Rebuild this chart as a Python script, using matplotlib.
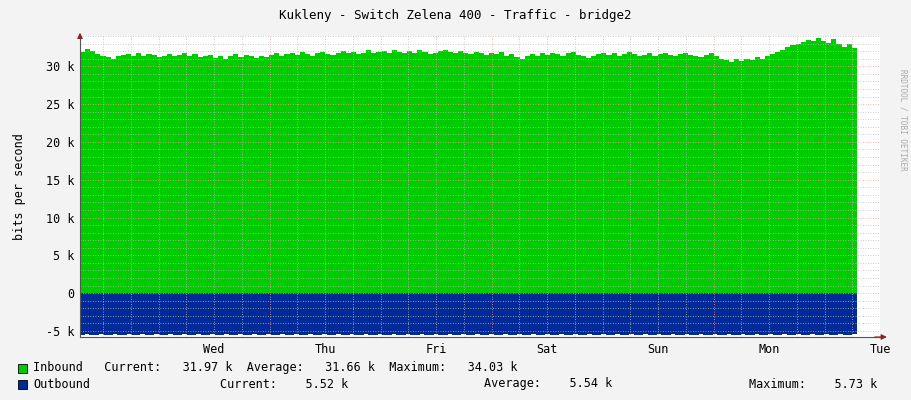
import matplotlib
matplotlib.use("Agg")
import matplotlib.pyplot as plt
import numpy as np
from matplotlib.ticker import MultipleLocator, FuncFormatter

days = ["Wed", "Thu", "Fri", "Sat", "Sun", "Mon", "Tue"]
# inbound (k bits/s), roughly one sample per ~1.05 h over 7 days
inbound = [31.9, 32.3, 32.0, 31.6, 31.4, 31.2, 31.0, 31.3, 31.5, 31.6,
           31.4, 31.7, 31.3, 31.6, 31.5, 31.2, 31.4, 31.6, 31.3, 31.5,
           31.8, 31.4, 31.6, 31.2, 31.4, 31.5, 31.1, 31.3, 31.0, 31.4,
           31.6, 31.2, 31.5, 31.3, 31.1, 31.4, 31.2, 31.5, 31.7, 31.3,
           31.6, 31.8, 31.5, 31.9, 31.6, 31.4, 31.7, 31.9, 31.6, 31.5,
           31.8, 32.0, 31.7, 31.9, 31.6, 31.8, 32.1, 31.7, 31.9, 32.0,
           31.8, 32.2, 31.9, 31.7, 32.0, 31.8, 32.1, 31.9, 31.6, 31.8,
           32.0, 32.2, 31.9, 31.7, 32.0, 31.8, 31.6, 31.9, 31.7, 31.5,
           31.8, 31.6, 31.9, 31.4, 31.6, 31.2, 31.0, 31.3, 31.6, 31.4,
           31.7, 31.5, 31.8, 31.6, 31.4, 31.7, 31.9, 31.5, 31.3, 31.1,
           31.4, 31.6, 31.8, 31.5, 31.7, 31.4, 31.6, 31.9, 31.6, 31.3,
           31.5, 31.7, 31.4, 31.6, 31.8, 31.5, 31.3, 31.6, 31.8, 31.5,
           31.4, 31.2, 31.5, 31.7, 31.3, 31.0, 30.8, 30.6, 30.9, 30.7,
           31.0, 30.8, 31.2, 30.9, 31.3, 31.6, 31.9, 32.2, 32.5, 32.8,
           33.0, 33.2, 33.5, 33.3, 33.8, 33.4, 33.1, 33.6, 33.0, 32.6,
           32.9, 32.4, 32.0]
# outbound (k bits/s), hourly
outbound = [5.58, 5.40, 5.58, 5.58, 5.42, 5.58, 5.57, 5.40, 5.58, 5.58,
            5.41, 5.58, 5.57, 5.40, 5.58, 5.58, 5.42, 5.58, 5.58, 5.40,
            5.57, 5.58, 5.41, 5.58, 5.58, 5.40, 5.58, 5.57, 5.42, 5.58,
            5.58, 5.40, 5.58, 5.58, 5.41, 5.57, 5.58, 5.40, 5.58, 5.58,
            5.42, 5.58, 5.57, 5.40, 5.58, 5.58, 5.41, 5.58, 5.58, 5.40,
            5.57, 5.58, 5.42, 5.58, 5.58, 5.40, 5.58, 5.57, 5.41, 5.58,
            5.58, 5.40, 5.58, 5.58, 5.42, 5.57, 5.58, 5.40, 5.58, 5.58,
            5.41, 5.58, 5.57, 5.40, 5.58, 5.58, 5.42, 5.58, 5.58, 5.40,
            5.57, 5.58, 5.41, 5.58, 5.58, 5.40, 5.58, 5.57, 5.42, 5.58,
            5.58, 5.40, 5.58, 5.58, 5.41, 5.57, 5.58, 5.40, 5.58, 5.58,
            5.42, 5.58, 5.57, 5.40, 5.58, 5.58, 5.41, 5.58, 5.58, 5.40,
            5.57, 5.58, 5.42, 5.58, 5.58, 5.40, 5.58, 5.57, 5.41, 5.58,
            5.58, 5.40, 5.58, 5.58, 5.42, 5.57, 5.58, 5.40, 5.58, 5.58,
            5.41, 5.58, 5.57, 5.40, 5.58, 5.58, 5.42, 5.58, 5.58, 5.40,
            5.57, 5.58, 5.41, 5.58, 5.58, 5.40, 5.58, 5.57, 5.42, 5.58,
            5.58, 5.40, 5.58, 5.58, 5.41, 5.57, 5.58, 5.40, 5.58, 5.58,
            5.42, 5.58, 5.57, 5.40, 5.58, 5.58, 5.41, 5.58]

plt.rcParams['font.family'] = ['DejaVu Sans Mono']
BG = '#F3F3F3'
fig = plt.figure(figsize=(9.11, 4.0), dpi=100, facecolor=BG)
ax = fig.add_axes([80/911, 63/400, 800/911, 301/400])
ax.set_facecolor('white')

# time axis in hours; plot starts at 07:00 Tuesday -> Wed noon at 29h
start = 0.0
total = 168.0
xi = np.linspace(start, total, len(inbound))
xo = np.linspace(start, total, len(outbound))
ax.fill_between(xi, 0, inbound, color='#00CC00', step='post', lw=0, zorder=1)
ax.fill_between(xo, 0, [-v for v in outbound], color='#002A97', step='post', lw=0, zorder=1)

ax.set_xlim(0, total)
ax.set_ylim(-5.8, 34.0)

first_mid = 17.0  # midnight offsets
# grid
for h in np.arange(first_mid - 24, total + 1, 6):
    if h <= 0: continue
    major = abs((h - first_mid) % 24) < 1e-6
    ax.axvline(h, color=('#FF9999' if major else '#BBBBBB'), lw=0.6,
               ls=(0, (1, 2)), zorder=2)
for v in np.arange(-5, 34.1, 1):
    major = abs(v % 5) < 1e-6
    ax.axhline(v, color=('#FF9999' if major else '#BBBBBB'), lw=0.6,
               ls=(0, (1, 2)), zorder=2)

ax.yaxis.set_major_locator(MultipleLocator(5))
ax.yaxis.set_major_formatter(FuncFormatter(lambda v, p: f"{int(v)} k" if v != 0 else "0"))
noon = [first_mid - 12 + 24 * i for i in range(1, 8)]
ax.set_xticks(noon)
ax.set_xticklabels(days)
ax.tick_params(axis='both', length=0, labelsize=8.5, colors='black', pad=4)
for s in ['top', 'right']:
    ax.spines[s].set_visible(False)
for s in ['left', 'bottom']:
    ax.spines[s].set_color('#555555')
    ax.spines[s].set_linewidth(0.8)
ax.set_ylabel("bits per second", fontsize=8.5, labelpad=14)
ax.annotate('', xy=(1.012, 0), xycoords='axes fraction', xytext=(0.99, 0),
            arrowprops=dict(arrowstyle='-|>', color='#882222', lw=0.8, mutation_scale=8))
ax.annotate('', xy=(0, 1.02), xycoords='axes fraction', xytext=(0, 0.99),
            arrowprops=dict(arrowstyle='-|>', color='#882222', lw=0.8, mutation_scale=8))

fig.text(455/911, 1 - 15/400, "Kukleny - Switch Zelena 400 - Traffic - bridge2",
         ha='center', va='center', fontsize=9)
fig.text(903/911, 1 - 120/400, "RRDTOOL / TOBI OETIKER", rotation=270,
         ha='center', va='center', fontsize=5.5, color='#AAAAAA')

def px(x, y):
    return x / 911, 1 - y / 400

fs = 8.5
fig.patches.append(plt.Rectangle(px(18, 373), 9/911, 9/400, transform=fig.transFigure,
                                 facecolor='#00CC00', edgecolor='black', lw=0.6))
fig.patches.append(plt.Rectangle(px(18, 389), 9/911, 9/400, transform=fig.transFigure,
                                 facecolor='#002A97', edgecolor='black', lw=0.6))
fig.text(*px(33, 368), "Inbound   Current:   31.97 k  Average:   31.66 k  Maximum:   34.03 k",
         va='center', fontsize=fs)
fig.text(*px(33, 384), "Outbound", va='center', fontsize=fs)
fig.text(*px(220, 384), "Current:    5.52 k", va='center', fontsize=fs)
fig.text(*px(484, 384), "Average:    5.54 k", va='center', fontsize=fs)
fig.text(*px(749, 384), "Maximum:    5.73 k", va='center', fontsize=fs)

fig.savefig("out.png", dpi=100, facecolor=BG)
